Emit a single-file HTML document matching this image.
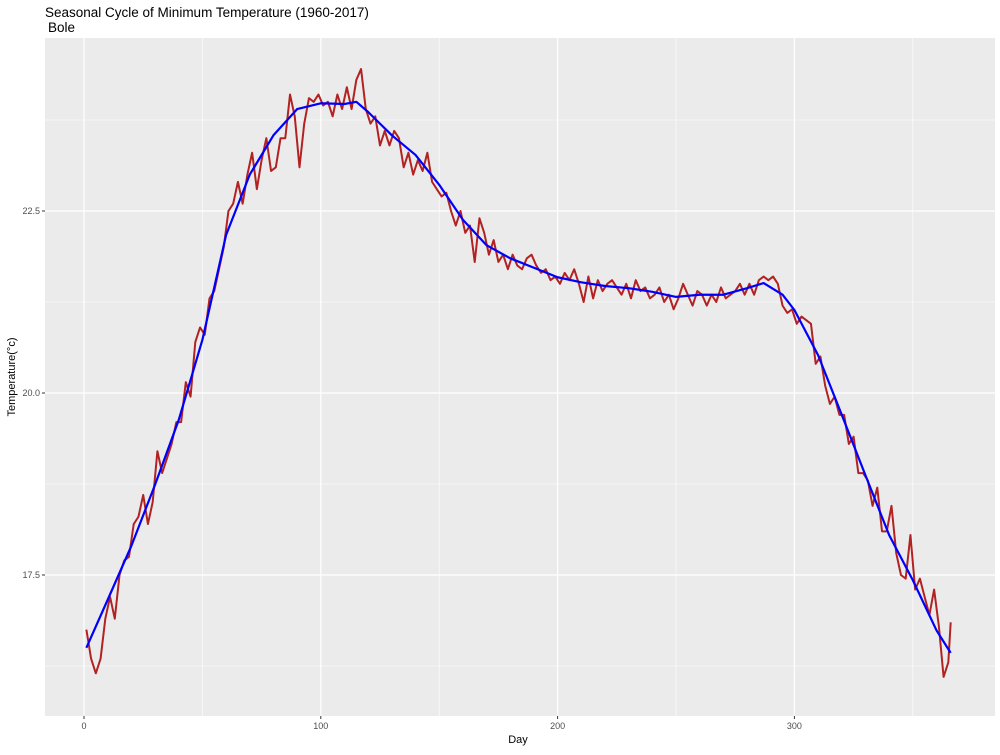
<!DOCTYPE html>
<html><head><meta charset="utf-8"><style>
body{margin:0;background:#fff;font-family:"Liberation Sans",sans-serif}
svg text{font-family:"Liberation Sans",sans-serif}
</style></head><body>
<svg id="chart" width="1000" height="750" xmlns="http://www.w3.org/2000/svg">
<rect width="1000" height="750" fill="#fff"/>
<text x="45" y="17" font-size="13.5" fill="#000">Seasonal Cycle of Minimum Temperature (1960-2017)</text>
<text x="48" y="32" font-size="13.5" fill="#000">Bole</text>
<rect x="45" y="38" width="950" height="678" fill="#ebebeb"/>
<g id="grid"></g><g id="series"></g><g id="axes"></g>
<text x="518" y="743" font-size="11" text-anchor="middle">Day</text>
<text transform="translate(15,377) rotate(-90)" font-size="11" text-anchor="middle">Temperature(°c)</text>
</svg>
<script>
const xTicks=[0,100,200,300];
const yTicks=[17.5,20.0,22.5];
const yTickLabels=["17.5","20.0","22.5"];
const smoothDays=[1,10,20,30,40,50,60,70,80,90,100,110,115,120,130,140,150,160,170,180,190,200,210,220,230,240,250,260,270,280,287,295,300,310,320,330,340,350,360,366];
const smoothVals=[16.5,17.16,17.9,18.74,19.63,20.73,22.17,23.0,23.54,23.9,23.98,23.97,24.0,23.86,23.54,23.27,22.86,22.38,22.03,21.85,21.72,21.59,21.52,21.47,21.44,21.39,21.32,21.35,21.35,21.44,21.51,21.35,21.14,20.52,19.7,18.87,18.05,17.43,16.74,16.43];
const rawVals=[16.75,16.35,16.15,16.35,16.9,17.2,16.9,17.5,17.7,17.75,18.2,18.3,18.6,18.2,18.5,19.2,18.9,19.1,19.3,19.6,19.6,20.15,19.95,20.7,20.9,20.8,21.3,21.4,21.7,22.0,22.5,22.6,22.9,22.6,23.0,23.3,22.8,23.2,23.5,23.05,23.1,23.5,23.5,24.1,23.8,23.1,23.7,24.05,24.0,24.1,23.95,24.0,23.8,24.1,23.9,24.2,23.9,24.3,24.45,23.9,23.7,23.8,23.4,23.6,23.4,23.6,23.5,23.1,23.3,23.0,23.2,23.05,23.3,22.9,22.8,22.7,22.75,22.5,22.3,22.5,22.2,22.3,21.8,22.4,22.2,21.9,22.1,21.8,21.9,21.7,21.9,21.75,21.7,21.85,21.9,21.75,21.65,21.7,21.55,21.6,21.5,21.65,21.55,21.7,21.5,21.25,21.6,21.3,21.55,21.4,21.5,21.55,21.45,21.35,21.5,21.3,21.55,21.4,21.45,21.3,21.35,21.45,21.25,21.35,21.15,21.3,21.5,21.35,21.2,21.4,21.35,21.2,21.35,21.25,21.45,21.3,21.35,21.4,21.5,21.35,21.5,21.35,21.55,21.6,21.55,21.6,21.5,21.2,21.1,21.15,20.95,21.05,21.0,20.95,20.4,20.5,20.1,19.85,19.95,19.7,19.7,19.3,19.4,18.9,18.9,18.8,18.45,18.7,18.1,18.1,18.45,17.8,17.5,17.45,18.05,17.3,17.45,17.2,16.95,17.3,16.8,16.1,16.3,16.85];
const rawDays=rawVals.map((v,i)=>Math.min(1+2*i,366));
const X=d=>84+d*2.368;
const Y=v=>393-(v-20)*72.8;
const NS="http://www.w3.org/2000/svg";
function mk(tag,attrs,parent){const e=document.createElementNS(NS,tag);for(const k in attrs)e.setAttribute(k,attrs[k]);parent.appendChild(e);return e;}
const grid=document.getElementById('grid'),axes=document.getElementById('axes'),ser=document.getElementById('series');
[50,150,250,350].forEach(d=>{const l=mk('line',{x1:X(d),x2:X(d),y1:38,y2:716,stroke:'#fff','stroke-width':0.6},grid);

});
[16.25,18.75,21.25,23.75].forEach(v=>{const l=mk('line',{x1:45,x2:995,y1:Y(v),y2:Y(v),stroke:'#fff','stroke-width':0.6},grid);

});
xTicks.forEach(d=>{const l=mk('line',{x1:X(d),x2:X(d),y1:38,y2:716,stroke:'#fff','stroke-width':1.2},grid);


const t=mk('line',{x1:X(d),x2:X(d),y1:716,y2:719,stroke:'#333'},axes);


const tx=mk('text',{x:X(d),y:729,'font-size':9,'text-anchor':'middle',fill:'#4d4d4d'},axes);tx.textContent=d;

});
yTicks.forEach((v,i)=>{const l=mk('line',{x1:45,x2:995,y1:Y(v),y2:Y(v),stroke:'#fff','stroke-width':1.2},grid);


const t=mk('line',{x1:42,x2:45,y1:Y(v),y2:Y(v),stroke:'#333'},axes);


const tx=mk('text',{x:40,y:Y(v)+3,'font-size':9,'text-anchor':'end',fill:'#4d4d4d'},axes);tx.textContent=yTickLabels[i];

});
const rp=mk('polyline',{points:rawVals.map((v,i)=>X(rawDays[i])+','+Y(v)).join(' '),fill:'none',stroke:'#b22222','stroke-width':2,'stroke-linejoin':'round'},ser);


const sp=mk('polyline',{points:smoothVals.map((v,i)=>X(smoothDays[i])+','+Y(v)).join(' '),fill:'none',stroke:'#0000ff','stroke-width':2.2,'stroke-linejoin':'round'},ser);


</script>
</body></html>
